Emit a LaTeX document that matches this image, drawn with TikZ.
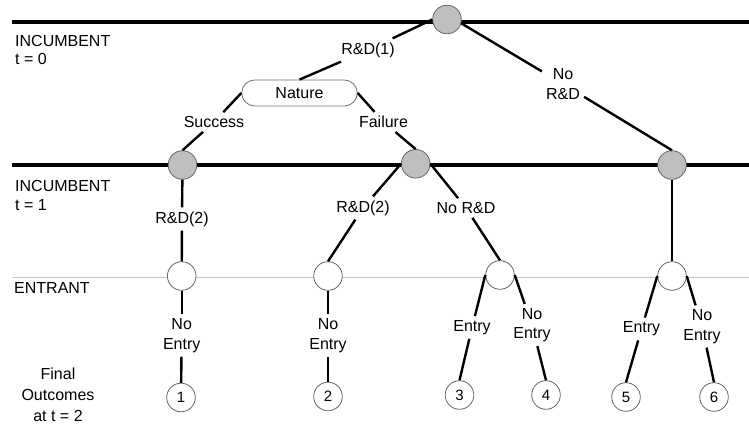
\documentclass[tikz,border=0pt]{standalone}
\usepackage{fontspec}
\setmainfont{Liberation Sans}
\begin{document}
\begin{tikzpicture}[x=1pt,y=-1pt,
  edgelbl/.style={font=\fontsize{16}{19.5}\selectfont, inner sep=4pt, align=center},
  sidelbl/.style={font=\fontsize{16}{19}\selectfont, inner sep=0pt, anchor=base west},
  decnode/.style={circle, draw=black!60, line width=0.8pt, fill=black!25, minimum size=28.6pt, inner sep=0pt},
  entnode/.style={circle, draw=black!60, line width=0.8pt, fill=white, minimum size=28.6pt, inner sep=0pt},
  outnode/.style={circle, draw=black!60, line width=0.8pt, fill=white, minimum size=28.6pt, inner sep=0pt, font=\fontsize{15}{18}\selectfont},
  connline/.style={line width=2.4pt},
  stageline/.style={line width=3.8pt},
  entline/.style={line width=1.2pt, draw=black!22}]
\useasboundingbox (0,0) rectangle (749,430);
% stage lines
\draw[stageline] (12,21.7) -- (749,21.7);
\draw[stageline] (12,165) -- (749,165);
\draw[entline] (12,277.5) -- (749,277.5);
% side labels
\node[sidelbl] (inc0) at (15,46.7) {INCUMBENT};
\node[sidelbl] (t0) at (15,65) {t = 0};
\node[sidelbl] (inc1) at (15,192) {INCUMBENT};
\node[sidelbl] (t1) at (15,210.5) {t = 1};
\node[sidelbl] (entr) at (14,293) {ENTRANT};
\node[font=\fontsize{16}{21}\selectfont, align=center, inner sep=0pt] (final) at (58,394.5) {Final\\Outcomes\\at t = 2};
% decision nodes
\node[decnode] (top) at (447,19.5) {};
\node[decnode] (L1) at (182.5,165) {};
\node[decnode] (M1) at (415.7,163.8) {};
\node[decnode] (R1) at (672,165) {};
\node[draw=black!55, line width=0.8pt, minimum width=115.6pt, minimum height=26pt, rounded corners=13pt, inner sep=0pt, font=\fontsize{16}{19}\selectfont] (nature) at (299.5,93) {Nature};
% entrant nodes
\node[entnode] (E1) at (181.7,276) {};
\node[entnode] (E2) at (328,276) {};
\node[entnode] (E3) at (500,275) {};
\node[entnode] (E4) at (672,276) {};
% outcomes
\node[outnode] (O1) at (181,397.5) {1};
\node[outnode] (O2) at (328,396.5) {2};
\node[outnode] (O3) at (459.5,395) {3};
\node[outnode] (O4) at (546,395) {4};
\node[outnode] (O5) at (626,397) {5};
\node[outnode] (O6) at (714,397) {6};
% edge labels
\node[edgelbl] (rd1) at (368,50) {R\&D(1)};
\node[edgelbl] (succ) at (214,122) {Success};
\node[edgelbl] (fail) at (383.5,122) {Failure};
\node[edgelbl] (nord) at (563,84) {No\\R\&D};
\node[edgelbl] (rd2a) at (182,219) {R\&D(2)};
\node[edgelbl] (rd2b) at (363,208) {R\&D(2)};
\node[edgelbl] (nrd) at (466,208) {No R\&D};
\node[edgelbl] (ne1) at (181.7,335.5) {No\\Entry};
\node[edgelbl] (ne2) at (328,335.5) {No\\Entry};
\node[edgelbl] (en3) at (472,327.5) {Entry};
\node[edgelbl] (ne4) at (532,325) {No\\Entry};
\node[edgelbl] (en5) at (641.5,329) {Entry};
\node[edgelbl] (ne6) at (702,326.5) {No\\Entry};
% connectors
\draw[connline] (top.west) -- (rd1);
\draw[connline] (rd1) -- (nature.north);
\draw[connline] (nature.west) -- (succ);
\draw[connline] (succ) -- (L1.north);
\draw[connline] (nature.east) -- (fail);
\draw[connline] (fail) -- (M1.north);
\draw[connline] (top.-15) -- (nord);
\draw[connline] (nord) -- (R1.north);
\draw[connline] (L1) -- (rd2a);
\draw[connline] (rd2a) -- (E1);
\draw[connline] (M1.west) -- (rd2b);
\draw[connline] (rd2b) -- (E2.north);
\draw[connline] (M1.east) -- (nrd);
\draw[connline] (nrd) -- (E3.north);
\draw[connline] (R1) -- (E4);
\draw[connline] (E1) -- (ne1);
\draw[connline] (ne1) -- (O1);
\draw[connline] (E2) -- (ne2);
\draw[connline] (ne2) -- (O2);
\draw[connline] (E3.west) -- (en3);
\draw[connline] (en3) -- (O3.north);
\draw[connline] (E3.east) -- (ne4);
\draw[connline] (ne4) -- (O4.north);
\draw[connline] (E4.west) -- (en5);
\draw[connline] (en5) -- (O5.north);
\draw[connline] (E4.east) -- (ne6);
\draw[connline] (ne6) -- (O6.north);
\end{tikzpicture}
\end{document}
